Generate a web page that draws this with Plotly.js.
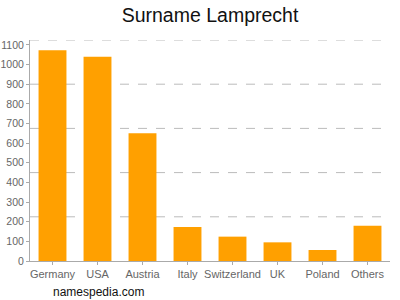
<!DOCTYPE html>
<html><head><meta charset="utf-8">
<script src="https://cdn.plot.ly/plotly-3.0.1.min.js"></script>
<style>html,body{margin:0;padding:0;background:#fff}#c{width:400px;height:300px}</style>
</head><body><div id="c"></div>
<script>
const categories = ["Germany","USA","Austria","Italy","Switzerland","UK","Poland","Others"];
const counts = [1073, 1040, 650, 173, 124, 95, 56, 180];
const tickValues = [0,100,200,300,400,500,600,700,800,900,1000,1100];
const gridValues = [225,450,675,900,1125];

const data = [{
  type: "bar", x: categories, y: counts,
  marker: {color: "#FFA000"}, hoverinfo: "x+y"
}];

const layout = {
  width: 400, height: 300,
  margin: {l: 30, r: 10, t: 40, b: 39},
  paper_bgcolor: "#fff", plot_bgcolor: "#fff",
  showlegend: false, bargap: 0.38,
  font: {family: "Liberation Sans, Arial, sans-serif", color: "#666", size: 11},
  title: {text: "Surname Lamprecht", xref: "paper", x: 0.5, xanchor: "center", y: 0.95, yanchor: "middle",
          font: {size: 19.5, color: "#111", family: "Liberation Sans, Arial, sans-serif"}},
  xaxis: {showline: true, linecolor: "#aaa", linewidth: 1, ticks: "outside", ticklen: 3,
          tickcolor: "#aaa", showgrid: false, tickfont: {size: 11, color: "#666"}, fixedrange: true},
  yaxis: {range: [0, 1125], tickvals: tickValues, showline: true, linecolor: "#aaa",
          ticks: "outside", ticklen: 3, tickcolor: "#aaa", showgrid: false, zeroline: false,
          tickfont: {size: 10.5, color: "#666"}, fixedrange: true},
  shapes: gridValues.map(v => ({type: "line", layer: "below", xref: "paper", x0: 0, x1: 1,
          yref: "y", y0: v, y1: v, line: {color: "#bbb", width: 1, dash: "dash"}})),
  annotations: [{text: "namespedia.com", xref: "paper", yref: "paper", x: 0.19, y: -0.14,
                 xanchor: "center", yanchor: "middle", showarrow: false,
                 font: {size: 12, color: "#111"}}]
};
Plotly.newPlot("c", data, layout, {displayModeBar: false, staticPlot: true});
</script></body></html>
